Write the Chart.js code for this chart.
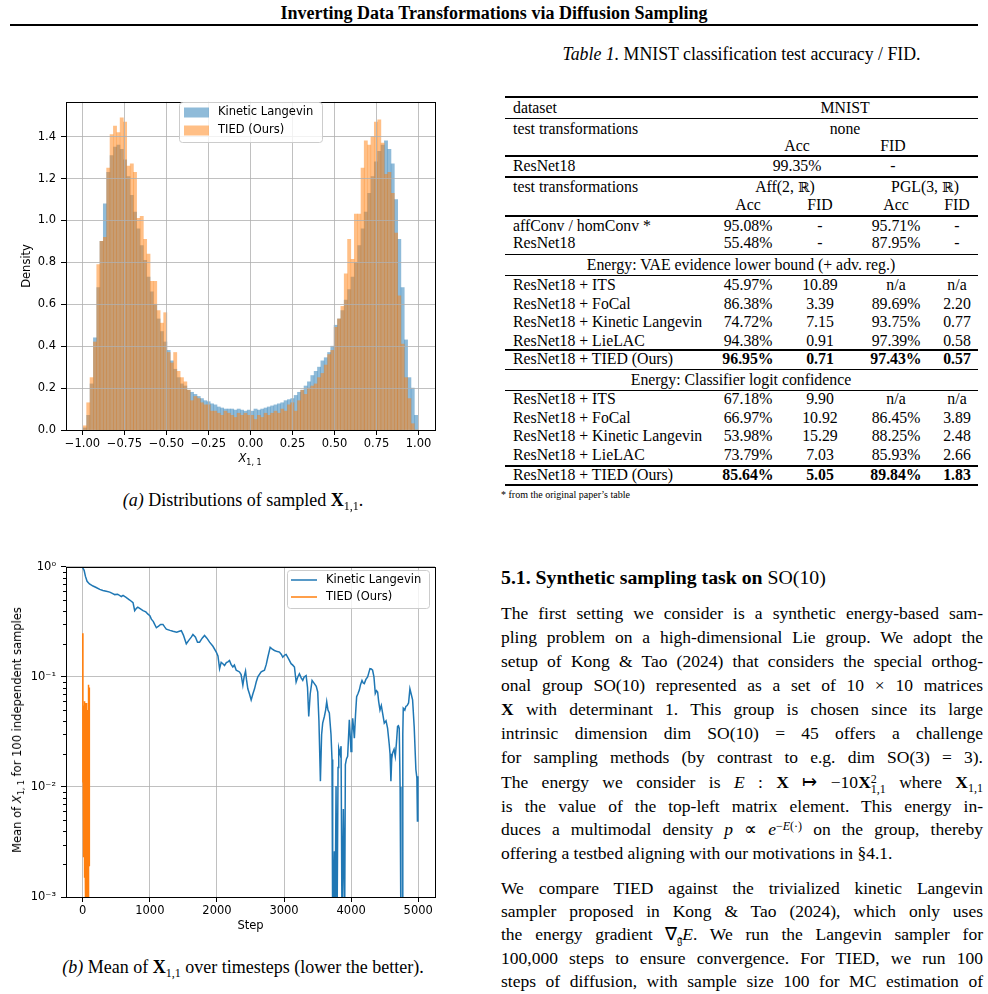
<!DOCTYPE html>
<html>
<head>
<meta charset="utf-8">
<script src="https://cdn.jsdelivr.net/npm/chart.js@4.4.1/dist/chart.umd.min.js"></script>
<style>
  body { margin: 0; width: 988px; height: 994px; overflow: hidden; background: #fff; position: relative;
         font-family: 'Liberation Serif', 'Times New Roman', serif; color: #000; }
  .abs { position: absolute; white-space: nowrap; }
  .mpl { font-family: 'DejaVu Sans', sans-serif; font-size: 11.5px; color: #000; }
  .mpl sub { font-size: 8px; vertical-align: -3px; }
  .rule { position: absolute; left: 505px; width: 473px; background: #000; }
  .tbl { font-size: 15.8px; line-height: 20px; }
  .bb { font-family: 'DejaVu Serif', serif; font-size: 14px; color: #000; }
  .line { position: absolute; left: 501px; width: 482px; font-size: 17.5px; line-height: 23.4px;
          text-align: justify; text-align-last: justify; white-space: nowrap; }
  .line.last { text-align-last: left; }
  .bx { font-weight: bold; }
  .lo { position: relative; top: 0.3em; font-size: 12px; line-height: 0; }
  .hi { position: relative; top: -0.45em; font-size: 12px; line-height: 0; }
  .sx { display: inline-block; vertical-align: middle; line-height: 10px; font-size: 12px; text-align: left; }
</style>
</head>
<body>

<!-- running header -->
<div class="abs" style="left:0;width:988px;top:3px;text-align:center;font-weight:bold;font-size:18px;line-height:20px">Inverting Data Transformations via Diffusion Sampling</div>
<div class="abs" style="left:10px;width:968px;top:24px;height:2px;background:#000"></div>

<!-- table caption -->
<div class="abs" style="left:505px;width:473px;top:43px;text-align:center;font-size:17.8px;line-height:22px"><i>Table 1.</i> MNIST classification test accuracy / FID.</div>

<!-- figure (a) -->
<div class="abs" style="left:0;top:90px;width:450px;height:380px"><canvas id="hist" width="450" height="380"></canvas></div>
<div class="abs mpl" style="left:250px;top:459px;transform:translate(-50%,-50%)"><i>X</i><sub>1, 1</sub></div>
<div class="abs" style="left:0;width:486px;top:489px;text-align:center;font-size:18px;line-height:22px"><i>(a)</i> Distributions of sampled <b>X</b><span class="lo">1,1</span>.</div>

<!-- figure (b) -->
<div class="abs" style="left:0;top:555px;width:450px;height:380px"><canvas id="mean" width="450" height="380"></canvas></div>
<div class="abs mpl" style="left:18px;top:730px;transform:translate(-50%,-50%) rotate(-90deg)">Mean of <i>X</i><sub>1, 1</sub> for 100 independent samples</div>
<div class="abs" style="left:0;width:486px;top:956px;text-align:center;font-size:18px;line-height:22px"><i>(b)</i> Mean of <b>X</b><span class="lo">1,1</span> over timesteps (lower the better).</div>

<div id="table"></div>

<!-- section text -->
<div class="abs" style="left:501px;top:566px;font-size:19.8px;line-height:23.4px"><b>5.1. Synthetic sampling task on</b> SO(10)</div>
<div class="line" style="top:602.3px">The first setting we consider is a synthetic energy-based sam-</div>
<div class="line" style="top:626.3px">pling problem on a high-dimensional Lie group. We adopt the</div>
<div class="line" style="top:650.3px">setup of Kong &amp; Tao (2024) that considers the special orthog-</div>
<div class="line" style="top:674.3px">onal group SO(10) represented as a set of 10 × 10 matrices</div>
<div class="line" style="top:698.3px"><span class="bx">X</span> with determinant 1. This group is chosen since its large</div>
<div class="line" style="top:722.3px">intrinsic dimension dim SO(10) = 45 offers a challenge</div>
<div class="line" style="top:746.3px">for sampling methods (by contrast to e.g. dim SO(3) = 3).</div>
<div class="line" style="top:771.3px">The energy we consider is <i>E</i> : <span class="bx">X</span> ↦ −10<span class="bx">X</span><span class="sx">2<br>1,1</span> where <span class="bx">X</span><span class="lo">1,1</span></div>
<div class="line" style="top:794.8px">is the value of the top-left matrix element. This energy in-</div>
<div class="line" style="top:818.3px">duces a multimodal density <i>p</i> ∝ <i>e</i><span class="hi">−<i>E</i>(·)</span> on the group, thereby</div>
<div class="line last" style="top:841.6px">offering a testbed aligning with our motivations in §4.1.</div>
<div class="line" style="top:876.6px">We compare TIED against the trivialized kinetic Langevin</div>
<div class="line" style="top:900px">sampler proposed in Kong &amp; Tao (2024), which only uses</div>
<div class="line" style="top:923.3px">the energy gradient ∇<span class="lo">𝔤</span><i>E</i>. We run the Langevin sampler for</div>
<div class="line" style="top:946.6px">100,000 steps to ensure convergence. For TIED, we run 100</div>
<div class="line" style="top:970px">steps of diffusion, with sample size 100 for MC estimation of</div>

<script>
// ---------- data: (a) histogram of sampled X_{1,1} ----------
const binCenters = [
  -0.985, -0.965, -0.945, -0.925, -0.905, -0.886, -0.866, -0.846, -0.826, -0.806,
  -0.786, -0.766, -0.746, -0.726, -0.706, -0.687, -0.667, -0.647, -0.627, -0.607,
  -0.587, -0.567, -0.547, -0.527, -0.507, -0.487, -0.468, -0.448, -0.428, -0.408,
  -0.388, -0.368, -0.348, -0.328, -0.308, -0.289, -0.269, -0.249, -0.229, -0.209,
  -0.189, -0.169, -0.149, -0.129, -0.109, -0.090, -0.070, -0.050, -0.030, -0.010,
   0.010,  0.030,  0.050,  0.070,  0.090,  0.109,  0.129,  0.149,  0.169,  0.189,
   0.209,  0.229,  0.249,  0.269,  0.289,  0.308,  0.328,  0.348,  0.368,  0.388,
   0.408,  0.428,  0.448,  0.468,  0.487,  0.507,  0.527,  0.547,  0.567,  0.587,
   0.607,  0.627,  0.647,  0.667,  0.686,  0.706,  0.726,  0.746,  0.766,  0.786,
   0.806,  0.826,  0.846,  0.866,  0.885,  0.905,  0.925,  0.945,  0.965,  0.985
];
const kineticDensity = [
  0.01, 0.07, 0.22, 0.44, 0.68, 0.90, 1.08, 1.23, 1.31, 1.35,
  1.36, 1.34, 1.29, 1.21, 1.12, 1.04, 0.96, 0.88, 0.81, 0.73,
  0.66, 0.60, 0.53, 0.47, 0.42, 0.38, 0.33, 0.29, 0.25, 0.22,
  0.21, 0.19, 0.18, 0.17, 0.16, 0.15, 0.14, 0.135, 0.125, 0.12,
  0.11, 0.105, 0.10, 0.10, 0.10, 0.095, 0.10, 0.095, 0.09, 0.095,
  0.09, 0.10, 0.095, 0.10, 0.105, 0.11, 0.115, 0.12, 0.125, 0.13,
  0.14, 0.145, 0.15, 0.165, 0.18, 0.19, 0.21, 0.23, 0.26, 0.28,
  0.30, 0.33, 0.345, 0.37, 0.40, 0.50, 0.53, 0.57, 0.62, 0.67,
  0.73, 0.80, 0.88, 0.96, 1.04, 1.13, 1.21, 1.28, 1.33, 1.36,
  1.38, 1.34, 1.27, 1.10, 0.91, 0.68, 0.43, 0.25, 0.20, 0.07
];
const tiedDensity = [
  0.02, 0.13, 0.25, 0.42, 0.79, 0.90, 0.92, 1.25, 1.41, 1.45,
  1.42, 1.49, 1.47, 1.26, 1.27, 1.23, 1.01, 1.02, 0.91, 0.84,
  0.71, 0.71, 0.57, 0.51, 0.56, 0.37, 0.32, 0.37, 0.28, 0.25,
  0.23, 0.19, 0.14, 0.16, 0.15, 0.13, 0.12, 0.12, 0.09, 0.09,
  0.08, 0.07, 0.09, 0.08, 0.07, 0.06, 0.08, 0.07, 0.08, 0.07,
  0.07, 0.05, 0.07, 0.06, 0.08, 0.07, 0.08, 0.09, 0.08, 0.10,
  0.09, 0.12, 0.13, 0.09, 0.14, 0.19, 0.17, 0.20, 0.21, 0.22,
  0.25, 0.27, 0.31, 0.36, 0.38, 0.49, 0.53, 0.59, 0.745, 0.91,
  0.815, 1.03, 1.03, 1.25, 1.38, 1.36, 1.40, 1.47, 1.48, 1.37,
  1.22, 1.23, 1.13, 0.94, 0.64, 0.41, 0.25, 0.15, 0.03, 0.0
];
const histXTicks = [-1, -0.75, -0.5, -0.25, 0, 0.25, 0.5, 0.75, 1];
const histXTickLabels = ['\u22121.00', '\u22120.75', '\u22120.50', '\u22120.25', '0.00', '0.25', '0.50', '0.75', '1.00'];
const histYTicks = [0, 0.2, 0.4, 0.6, 0.8, 1.0, 1.2, 1.4];
const histYTickLabels = ['0.0', '0.2', '0.4', '0.6', '0.8', '1.0', '1.2', '1.4'];

// ---------- data: (b) mean of X_{1,1} over steps ----------
const langevinSteps = [
  0, 20, 40, 64, 100, 153, 200, 253, 300, 350, 402, 440, 476, 520, 575, 600, 640, 700, 749, 774,
  800, 820, 860, 898, 940, 972, 1000, 1022, 1050, 1072, 1097, 1130, 1160, 1195, 1220, 1245, 1300, 1344, 1400, 1440,
  1469, 1500, 1543, 1580, 1617, 1642, 1680, 1710, 1741, 1780, 1815, 1850, 1890, 1940, 1990, 2015, 2039, 2063, 2088, 2113,
  2140, 2163, 2187, 2210, 2237, 2260, 2287, 2336, 2360, 2386, 2405, 2426, 2440, 2460, 2485, 2510, 2535, 2560, 2585, 2609,
  2659, 2708, 2735, 2758, 2793, 2820, 2857, 2900, 2932, 2960, 2981, 3010, 3031, 3070, 3105, 3130, 3155, 3180, 3205, 3229,
  3255, 3279, 3300, 3329, 3350, 3368, 3390, 3418, 3452, 3480, 3502, 3520, 3542, 3560, 3576, 3601, 3620, 3636, 3655, 3675,
  3700, 3715, 3725, 3738, 3750, 3760, 3775, 3790, 3805, 3815, 3835, 3850, 3864, 3884, 3903, 3914, 3930, 3948, 3973, 3985,
  3998, 4010, 4023, 4035, 4048, 4065, 4082, 4100, 4122, 4140, 4162, 4180, 4196, 4220, 4246, 4265, 4281, 4300, 4320, 4340,
  4360, 4378, 4395, 4410, 4430, 4450, 4469, 4494, 4520, 4543, 4568, 4580, 4593, 4605, 4618, 4640, 4658, 4675, 4692, 4705,
  4717, 4730, 4742, 4760, 4770, 4777, 4800, 4816, 4835, 4856, 4876, 4895, 4916, 4940, 4965, 4980, 4988, 4995
];
const langevinMean = [
  0.98, 0.93, 0.82, 0.74, 0.70, 0.67, 0.65, 0.625, 0.61, 0.60, 0.59, 0.575, 0.56, 0.565, 0.537, 0.55, 0.53, 0.50, 0.474, 0.40,
  0.42, 0.43, 0.415, 0.40, 0.39, 0.372, 0.36, 0.335, 0.32, 0.30, 0.28, 0.29, 0.30, 0.30, 0.285, 0.272, 0.265, 0.26, 0.255, 0.26,
  0.263, 0.24, 0.20, 0.215, 0.23, 0.243, 0.23, 0.207, 0.207, 0.225, 0.238, 0.225, 0.207, 0.19, 0.168, 0.155, 0.119, 0.136, 0.132, 0.127,
  0.135, 0.137, 0.141, 0.13, 0.123, 0.128, 0.115, 0.111, 0.105, 0.084, 0.10, 0.113, 0.095, 0.078, 0.07, 0.0617, 0.07, 0.078, 0.09, 0.10,
  0.111, 0.115, 0.13, 0.151, 0.186, 0.18, 0.174, 0.17, 0.168, 0.16, 0.151, 0.158, 0.16, 0.145, 0.132, 0.128, 0.123, 0.09, 0.10, 0.107,
  0.098, 0.093, 0.10, 0.103, 0.08, 0.0437, 0.07, 0.093, 0.087, 0.082, 0.073, 0.04, 0.0113, 0.03, 0.038, 0.0437, 0.05, 0.0596, 0.05, 0.047,
  0.03, 0.0178, 0.0005, 0.001, 0.0026, 0.0005, 0.0102, 0.0005, 0.015, 0.0226, 0.02, 0.0235, 0.0005, 0.0063, 0.0005, 0.016, 0.018, 0.019, 0.0407, 0.03,
  0.021, 0.03, 0.042, 0.035, 0.0278, 0.045, 0.066, 0.07, 0.076, 0.085, 0.093, 0.088, 0.087, 0.095, 0.10, 0.11, 0.119, 0.118, 0.115, 0.10,
  0.0708, 0.075, 0.073, 0.06, 0.05, 0.055, 0.047, 0.038, 0.04, 0.0342, 0.0243, 0.02, 0.0113, 0.018, 0.0204, 0.022, 0.019, 0.025, 0.0355, 0.036,
  0.034, 0.01, 0.0005, 0.0005, 0.03, 0.052, 0.05, 0.054, 0.055, 0.058, 0.078, 0.07, 0.062, 0.035, 0.0144, 0.0121, 0.0049, 0.0125
];
const tiedSteps = [
  0, 2, 4, 6, 8, 10, 12, 14, 16, 18, 20, 22, 24, 26, 28, 30, 32, 34, 36, 38,
  40, 42, 44, 46, 48, 50, 52, 54, 56, 58, 60, 62, 64, 66, 68, 70, 72, 74, 76, 78,
  80, 82, 84, 86, 88, 90, 92, 94, 96, 98, 100
];
const tiedMean = [
  0.25, 0.011, 0.045, 0.005, 0.05, 0.003, 0.055, 0.0023, 0.04, 0.006, 0.055, 0.002, 0.05, 0.004, 0.06, 0.0015, 0.045, 0.003, 0.058, 0.0008,
  0.04, 0.002, 0.05, 0.0011, 0.055, 0.003, 0.045, 0.0009, 0.058, 0.002, 0.035, 0.0007, 0.05, 0.0015, 0.048, 0.0008, 0.04, 0.002, 0.03, 0.0006,
  0.05, 0.0011, 0.04, 0.0005, 0.06, 0.0009, 0.085, 0.002, 0.08, 0.025, 0.0019
];
const stepTicks = [0, 1000, 2000, 3000, 4000, 5000];
const logTicks = [0.001, 0.01, 0.1, 1];
const logTickLabels = ['10\u207B\u00B3', '10\u207B\u00B2', '10\u207B\u00B9', '10\u2070'];

// ---------- table 1 ----------
const tableCols = [748, 820, 896, 957];
const vaeRows = [
  ['ResNet18 + ITS', '45.97%', '10.89', 'n/a', 'n/a'],
  ['ResNet18 + FoCal', '86.38%', '3.39', '89.69%', '2.20'],
  ['ResNet18 + Kinetic Langevin', '74.72%', '7.15', '93.75%', '0.77'],
  ['ResNet18 + LieLAC', '94.38%', '0.91', '97.39%', '0.58']
];
const vaeOurs = ['ResNet18 + TIED (Ours)', '96.95%', '0.71', '97.43%', '0.57'];
const clsRows = [
  ['ResNet18 + ITS', '67.18%', '9.90', 'n/a', 'n/a'],
  ['ResNet18 + FoCal', '66.97%', '10.92', '86.45%', '3.89'],
  ['ResNet18 + Kinetic Langevin', '53.98%', '15.29', '88.25%', '2.48'],
  ['ResNet18 + LieLAC', '73.79%', '7.03', '85.93%', '2.66']
];
const clsOurs = ['ResNet18 + TIED (Ours)', '85.64%', '5.05', '89.84%', '1.83'];

const tbl = document.getElementById('table');
function put(html, x, cy, align, extra) {
  const d = document.createElement('div');
  d.className = 'abs tbl';
  d.innerHTML = html;
  d.style.top = (cy - 10) + 'px';
  if (align === 'center') { d.style.left = (x - 80) + 'px'; d.style.width = '160px'; d.style.textAlign = 'center'; }
  else d.style.left = x + 'px';
  if (extra) d.style.cssText += extra;
  tbl.appendChild(d);
}
function rule(y, h) {
  const d = document.createElement('div');
  d.className = 'rule';
  d.style.top = y + 'px';
  d.style.height = h + 'px';
  tbl.appendChild(d);
}
function dataRow(row, cy, bold) {
  put(row[0], 513, cy);
  row.slice(1).forEach((v, i) => put(bold ? '<b>' + v + '</b>' : v, tableCols[i], cy, 'center'));
}
rule(96, 1.5);
put('dataset', 513, 108); put('MNIST', 845, 108, 'center');
rule(118, 1);
put('test transformations', 513, 129); put('none', 845, 129, 'center');
put('Acc', 797, 146, 'center'); put('FID', 893, 146, 'center');
rule(155, 1.5);
put('ResNet18', 513, 166); put('99.35%', 797, 166, 'center'); put('-', 893, 166, 'center');
rule(176, 1.5);
put('test transformations', 513, 187);
put('Aff(2, <span class="bb">ℝ</span>)', 785, 187, 'center'); put('PGL(3, <span class="bb">ℝ</span>)', 925, 187, 'center');
tableCols.forEach((x, i) => put(i % 2 ? 'FID' : 'Acc', x, 205, 'center'));
rule(215, 1.5);
dataRow(['affConv / homConv *', '95.08%', '-', '95.71%', '-'], 226);
dataRow(['ResNet18', '55.48%', '-', '87.95%', '-'], 243);
rule(254, 1);
put('Energy: VAE evidence lower bound (+ adv. reg.)', 741, 265, 'center', 'width:400px;left:541px');
rule(275, 1);
vaeRows.forEach((r, i) => dataRow(r, 285 + i * 18.5));
rule(349, 1.5);
dataRow(vaeOurs, 359, true);
rule(369, 1);
put('Energy: Classifier logit confidence', 741, 380, 'center', 'width:400px;left:541px');
rule(390, 1);
clsRows.forEach((r, i) => dataRow(r, 399 + i * 18.5));
rule(465, 1.5);
dataRow(clsOurs, 475, true);
rule(484, 1.5);
put('<span style="font-size:10px">* from the original paper\u2019s table</span>', 501, 493);

// ---------- chart helpers ----------
const tickFont = { family: 'DejaVu Sans', size: 11.5 };
const frame = {
  id: 'frame',
  afterDraw(chart, args, opts) {
    const { ctx, chartArea: a } = chart;
    ctx.save();
    ctx.strokeStyle = '#000';
    ctx.lineWidth = 1;
    ctx.strokeRect(Math.round(a.left) + 0.5, Math.round(a.top) + 0.5, Math.round(a.right - a.left), Math.round(a.bottom - a.top));
    if (opts.minorLog) {
      const y = chart.scales.y;
      for (let e = -3; e < 0; e++) {
        for (let m = 2; m < 10; m++) {
          const py = Math.round(y.getPixelForValue(m * Math.pow(10, e))) + 0.5;
          ctx.beginPath();
          ctx.moveTo(a.left - 3, py);
          ctx.lineTo(a.left, py);
          ctx.stroke();
        }
      }
    }
    ctx.restore();
  }
};
const mplLegend = {
  id: 'mplLegend',
  afterDraw(chart, args, o) {
    const ctx = chart.ctx;
    ctx.save();
    ctx.fillStyle = 'rgba(255,255,255,0.8)';
    ctx.strokeStyle = '#cccccc';
    ctx.lineWidth = 1;
    ctx.beginPath();
    ctx.roundRect(o.left + 0.5, o.top + 0.5, o.width, o.height, 3);
    ctx.fill();
    ctx.stroke();
    ctx.font = '11.5px "DejaVu Sans"';
    ctx.textBaseline = 'middle';
    chart.data.datasets.forEach((ds, i) => {
      const cy = o.top + o.firstRow + i * o.rowGap;
      if (o.kind === 'patch') {
        ctx.fillStyle = ds.backgroundColor;
        ctx.fillRect(o.left + 5, cy - 5, 25, 10);
      } else {
        ctx.strokeStyle = ds.borderColor;
        ctx.lineWidth = ds.borderWidth;
        ctx.beginPath();
        ctx.moveTo(o.left + 4, cy);
        ctx.lineTo(o.left + 30, cy);
        ctx.stroke();
      }
      ctx.fillStyle = '#000';
      ctx.fillText(ds.label, o.left + 39, cy);
    });
    ctx.restore();
  }
};

// ---------- (a) histogram ----------
new Chart(document.getElementById('hist'), {
  type: 'bar',
  data: {
    datasets: [
      {
        label: 'Kinetic Langevin',
        data: binCenters.map((x, i) => ({ x, y: kineticDensity[i] })),
        backgroundColor: 'rgba(31,119,180,0.5)',
        borderWidth: 0,
        grouped: false,
        barPercentage: 1,
        categoryPercentage: 1,
        order: 1
      },
      {
        label: 'TIED (Ours)',
        data: binCenters.map((x, i) => ({ x, y: tiedDensity[i] })),
        backgroundColor: 'rgba(255,127,14,0.5)',
        borderWidth: 0,
        grouped: false,
        barPercentage: 1,
        categoryPercentage: 1,
        order: 0
      }
    ]
  },
  options: {
    responsive: false,
    animation: false,
    layout: { padding: { left: 0, right: 15, top: 7, bottom: 0 } },
    plugins: {
      legend: { display: false },
      tooltip: { enabled: false },
      frame: {},
      mplLegend: { kind: 'patch', left: 179, top: 12, width: 143, height: 40, firstRow: 10.5, rowGap: 18 }
    },
    scales: {
      x: {
        type: 'linear',
        offset: false,
        min: -1.0975,
        max: 1.0975,
        afterBuildTicks: s => { s.ticks = histXTicks.map(v => ({ value: v })); },
        afterFit: s => { s.height = 40; },
        ticks: {
          callback: (v, i) => histXTickLabels[i],
          font: tickFont, color: '#000', maxRotation: 0, autoSkip: false, padding: 2
        },
        grid: { color: '#b0b0b0', lineWidth: 0.8, tickColor: '#000', tickLength: 5, tickWidth: 1, offset: false, z: 1 },
        border: { display: false }
      },
      y: {
        min: 0,
        max: 1.566,
        afterBuildTicks: s => { s.ticks = histYTicks.map(v => ({ value: v })); },
        afterFit: s => { s.width = 66; },
        ticks: {
          callback: (v, i) => histYTickLabels[i],
          font: tickFont, color: '#000', padding: 5
        },
        grid: { color: '#b0b0b0', lineWidth: 0.8, tickColor: '#000', tickLength: 5, tickWidth: 1, z: 1 },
        border: { display: false },
        title: { display: true, text: 'Density', font: tickFont, color: '#000', padding: { top: 20, bottom: 0 } }
      }
    }
  },
  plugins: [frame, mplLegend]
});

// ---------- (b) mean over steps ----------
new Chart(document.getElementById('mean'), {
  type: 'line',
  data: {
    datasets: [
      {
        label: 'Kinetic Langevin',
        data: langevinSteps.map((x, i) => ({ x, y: langevinMean[i] })),
        borderColor: '#1f77b4',
        borderWidth: 1.5,
        pointRadius: 0,
        tension: 0,
        order: 1
      },
      {
        label: 'TIED (Ours)',
        data: tiedSteps.map((x, i) => ({ x, y: tiedMean[i] })),
        borderColor: '#ff7f0e',
        borderWidth: 1.5,
        pointRadius: 0,
        tension: 0,
        order: 0
      }
    ]
  },
  options: {
    responsive: false,
    animation: false,
    layout: { padding: { left: 0, right: 15, top: 9, bottom: 0 } },
    plugins: {
      legend: { display: false },
      tooltip: { enabled: false },
      frame: { minorLog: true },
      mplLegend: { kind: 'line', left: 287, top: 15, width: 142, height: 38, firstRow: 10, rowGap: 17 }
    },
    scales: {
      x: {
        type: 'linear',
        min: -250,
        max: 5250,
        afterBuildTicks: s => { s.ticks = stepTicks.map(v => ({ value: v })); },
        afterFit: s => { s.height = 38; },
        ticks: { callback: v => String(v), font: tickFont, color: '#000', maxRotation: 0, autoSkip: false, padding: 2 },
        grid: { color: '#b0b0b0', lineWidth: 0.8, tickColor: '#000', tickLength: 5, tickWidth: 1 },
        border: { display: false },
        title: { display: true, text: 'Step', font: tickFont, color: '#000', padding: { top: 0, bottom: 2 } }
      },
      y: {
        type: 'logarithmic',
        min: 0.001,
        max: 1,
        afterBuildTicks: s => { s.ticks = logTicks.map(v => ({ value: v, major: true })); },
        afterFit: s => { s.width = 66; },
        ticks: { callback: (v, i) => logTickLabels[i], font: tickFont, color: '#000', padding: 5 },
        grid: { color: '#b0b0b0', lineWidth: 0.8, tickColor: '#000', tickLength: 5, tickWidth: 1 },
        border: { display: false }
      }
    }
  },
  plugins: [frame, mplLegend]
});
</script>
</body>
</html>
